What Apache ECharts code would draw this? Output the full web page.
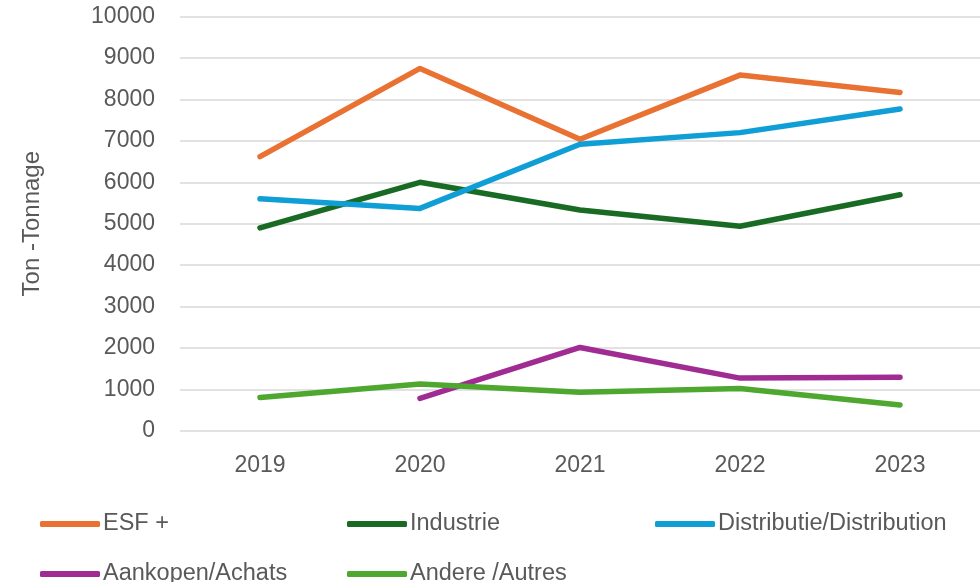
<!DOCTYPE html>
<html>
<head>
<meta charset="utf-8">
<script src="https://cdn.jsdelivr.net/npm/echarts@6/dist/echarts.min.js"></script>
<style>html,body{margin:0;padding:0;background:#fff}#c{width:980px;height:582px}</style>
</head>
<body>
<div id="c"></div>
<script>
const categories = ['2019', '2020', '2021', '2022', '2023'];
const esfPlus = [6620, 8750, 7040, 8590, 8170];
const industrie = [4900, 6000, 5330, 4940, 5700];
const distributie = [5600, 5370, 6920, 7200, 7770];
const aankopen = [null, 780, 2010, 1270, 1290];
const andere = [800, 1130, 930, 1020, 620];
const seriesNames = ['ESF +', 'Industrie', 'Distributie/Distribution', 'Aankopen/Achats', 'Andere /Autres'];
const colors = ['#E97132', '#196B24', '#0F9ED5', '#A02B93', '#4EA72E'];
const yTicks = [0, 1000, 2000, 3000, 4000, 5000, 6000, 7000, 8000, 9000, 10000];

const chart = echarts.init(document.getElementById('c'));
const dataSets = [esfPlus, industrie, distributie, aankopen, andere];
const legendPos = [[35, 507], [342, 507], [650, 507], [35, 557], [342, 557]];
const font = 'Liberation Sans, Arial, sans-serif';
chart.setOption({
  animation: false,
  color: colors,
  grid: { left: 180, right: -4, top: 16.7, bottom: 151.3, containLabel: false },
  legend: seriesNames.map((n, i) => ({
    data: [n], left: legendPos[i][0], top: legendPos[i][1], icon: 'roundRect',
    itemWidth: 60, itemHeight: 6, itemGap: 0,
    textStyle: { color: '#595959', fontSize: 23.5, fontFamily: font, padding: [0, 0, 0, -2] }
  })),
  xAxis: {
    type: 'category', data: categories, boundaryGap: true,
    axisLine: { show: false }, axisTick: { show: false },
    axisLabel: { color: '#595959', fontSize: 23, fontFamily: font, margin: 23 }
  },
  yAxis: {
    type: 'value', min: 0, max: 10000, interval: 1000,
    name: 'Ton -Tonnage', nameLocation: 'middle', nameGap: 136, nameRotate: 90,
    nameTextStyle: { color: '#595959', fontSize: 24, fontFamily: font },
    axisLine: { show: false }, axisTick: { show: false },
    axisLabel: { color: '#595959', fontSize: 23, fontFamily: font, margin: 25,
      formatter: v => yTicks.includes(v) ? String(v) : '' },
    splitLine: { lineStyle: { color: '#D9D9D9', width: 1.5 } }
  },
  series: seriesNames.map((n, i) => ({
    name: n, type: 'line', data: dataSets[i], showSymbol: false, symbol: 'none',
    lineStyle: { width: 5.5, color: colors[i], cap: 'round', join: 'round' },
    itemStyle: { color: colors[i] }
  }))
});
</script>
</body>
</html>
